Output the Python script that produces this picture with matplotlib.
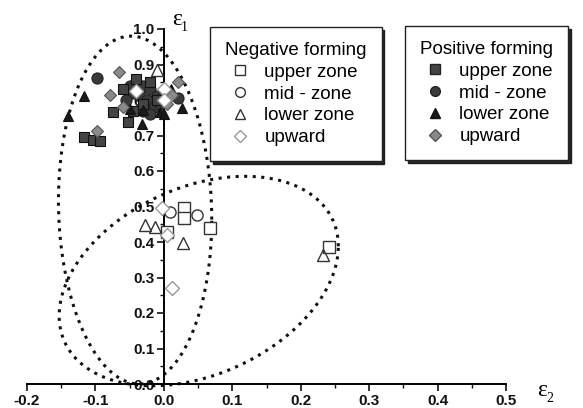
import numpy as np
import matplotlib
matplotlib.use("Agg")
import matplotlib.pyplot as plt
from matplotlib.lines import Line2D

plt.rcParams['font.family'] = ['Liberation Sans', 'DejaVu Sans']

# ---- data (epsilon2, epsilon1) ----
neg_upper_x = [0.029, 0.029, 0.068, 0.241, 0.004]
neg_upper_y = [0.495, 0.468, 0.440, 0.386, 0.428]
neg_mid_x = [0.048, 0.009]
neg_mid_y = [0.476, 0.485]
neg_lower_x = [0.028, 0.232, -0.013, -0.010, -0.028]
neg_lower_y = [0.397, 0.363, 0.442, 0.885, 0.447]
neg_up_x = [0.012, -0.002, -0.040, 0.000, 0.000, 0.005]
neg_up_y = [0.270, 0.495, 0.825, 0.830, 0.800, 0.420]

pos_upper_x = [-0.075, -0.053, -0.116, -0.104, -0.094, -0.040, -0.020, -0.010, -0.030, -0.060, -0.045]
pos_upper_y = [0.766, 0.738, 0.696, 0.687, 0.684, 0.860, 0.850, 0.800, 0.790, 0.830, 0.770]
pos_mid_x = [-0.097, 0.021, -0.040, -0.030, -0.020, -0.045, -0.035, -0.025, -0.010, -0.050,
             -0.015, -0.005, 0.000, -0.055, -0.030, -0.020]
pos_mid_y = [0.862, 0.806, 0.850, 0.840, 0.830, 0.820, 0.810, 0.800, 0.810, 0.840,
             0.780, 0.790, 0.820, 0.800, 0.770, 0.760]
pos_lower_x = [-0.116, -0.140, 0.026, -0.031, -0.006, -0.032, -0.050, 0.010, 0.000]
pos_lower_y = [0.811, 0.755, 0.777, 0.772, 0.766, 0.732, 0.775, 0.830, 0.760]
pos_up_x = [-0.066, -0.079, -0.098, 0.020, 0.005, -0.060, 0.012]
pos_up_y = [0.878, 0.814, 0.714, 0.850, 0.790, 0.780, 0.815]

# ellipse outlines (center, x half-extent, covariance term, y half-extent)
ell_tall = dict(cx=-0.042, cy=0.490, ax=0.112, sxy=-0.003, ay=0.490)
ell_wide = dict(cx=0.051, cy=0.290, ax=0.204, sxy=0.020, ay=0.295)

xticks = [-0.2, -0.1, 0.0, 0.1, 0.2, 0.3, 0.4, 0.5]
yticks = [0.0, 0.1, 0.2, 0.3, 0.4, 0.5, 0.6, 0.7, 0.8, 0.9, 1.0]

fig = plt.figure(figsize=(5.83, 4.08), dpi=100)
ax = fig.add_axes([27/583, 24/408, 479/583, 355/408])
ax.set_xlim(-0.2, 0.5)
ax.set_ylim(0.0, 1.0)

def ellipse_pts(e):
    t = np.linspace(0, 2*np.pi, 400)
    b = np.sqrt(e['ay']**2 - (e['sxy']/e['ax'])**2)
    x = e['cx'] + e['ax']*np.cos(t)
    y = e['cy'] + (e['sxy']/e['ax'])*np.cos(t) + b*np.sin(t)
    return x, y

for e in (ell_tall, ell_wide):
    x, y = ellipse_pts(e)
    ax.plot(x, y, color='#111111', lw=2.2, linestyle=(0, (1, 1.8)),
            dash_capstyle='butt', clip_on=False, zorder=2)

# positive (filled)
ax.plot(pos_mid_x, pos_mid_y, 'o', ms=8, mfc='#3a3a3a', mec='#222222', mew=0.8, ls='none', zorder=3)
ax.plot(pos_upper_x, pos_upper_y, 's', ms=7, mfc='#444444', mec='#111111', mew=0.8, ls='none', zorder=3)
ax.plot(pos_lower_x, pos_lower_y, '^', ms=7, mfc='#1a1a1a', mec='#111111', mew=0.8, ls='none', zorder=3)
ax.plot(pos_up_x, pos_up_y, 'D', ms=6, mfc='#8a8a8a', mec='#555555', mew=0.8, ls='none', zorder=3)

# negative (open)
ax.plot(neg_upper_x, neg_upper_y, 's', ms=8, mfc='white', mec='#333333', mew=1.0, ls='none', zorder=4)
ax.plot(neg_mid_x, neg_mid_y, 'o', ms=8, mfc='white', mec='#333333', mew=1.0, ls='none', zorder=4)
ax.plot(neg_lower_x, neg_lower_y, '^', ms=9, mfc='none', mec='#333333', mew=1.0, ls='none', zorder=4)
ax.plot(neg_up_x, neg_up_y, 'D', ms=7, mfc='white', mec='#999999', mew=1.0, ls='none', zorder=4)

# axes styling
for s in ('top', 'right'):
    ax.spines[s].set_visible(False)
ax.spines['left'].set_position(('data', 0.0))
ax.spines['left'].set_linewidth(1.4)
ax.spines['bottom'].set_linewidth(1.4)
ax.set_xticks(xticks)
ax.set_yticks(yticks)
ax.set_xticklabels([f'{v:.1f}' for v in xticks])
ax.set_yticklabels([f'{v:.1f}' for v in yticks])
ax.set_xticks(np.arange(-0.15, 0.5, 0.1), minor=True)
ax.set_yticks(np.arange(0.05, 1.0, 0.1), minor=True)
ax.tick_params(which='major', direction='out', length=5, width=1.2, labelsize=11, pad=2, colors='#111111')
ax.tick_params(which='minor', direction='out', length=3, width=1.0, colors='#111111')
for lab in ax.get_xticklabels() + ax.get_yticklabels():
    lab.set_fontweight('bold')

# axis labels (upright epsilon with subscript)
ax.text(0.019, 1.027, 'ε', family='Liberation Serif', fontsize=17, ha='center', va='center', clip_on=False)
ax.text(0.030, 1.005, '1', family='Liberation Serif', fontsize=10, ha='center', va='center', clip_on=False)
ax.text(0.553, -0.018, 'ε', family='Liberation Serif', fontsize=17, ha='center', va='center', clip_on=False)
ax.text(0.564, -0.040, '2', family='Liberation Serif', fontsize=10, ha='center', va='center', clip_on=False)

labels = ['upper zone', 'mid - zone', 'lower zone', 'upward']
neg_h = [Line2D([], [], marker='s', ms=7, mfc='white', mec='#333333', ls='none'),
         Line2D([], [], marker='o', ms=7, mfc='white', mec='#333333', ls='none'),
         Line2D([], [], marker='^', ms=7, mfc='white', mec='#333333', ls='none'),
         Line2D([], [], marker='D', ms=6, mfc='white', mec='#999999', ls='none')]
pos_h = [Line2D([], [], marker='s', ms=7, mfc='#444444', mec='#222222', ls='none'),
         Line2D([], [], marker='o', ms=7, mfc='#3a3a3a', mec='#222222', ls='none'),
         Line2D([], [], marker='^', ms=7, mfc='#1a1a1a', mec='#111111', ls='none'),
         Line2D([], [], marker='D', ms=6, mfc='#8a8a8a', mec='#555555', ls='none')]

common = dict(loc='upper left', bbox_transform=fig.transFigure, frameon=True, fancybox=False,
              shadow={'color': '#111111', 'alpha': 0.9}, edgecolor='#222222', fontsize=13.5,
              title_fontsize=13.5, alignment='left', handlelength=1.6, handletextpad=0.5,
              borderpad=0.8, labelspacing=0.25, borderaxespad=0)
leg1 = ax.legend(neg_h, labels, title='Negative forming', bbox_to_anchor=(210/583, 1-27/408), **common)
leg1.get_frame().set_linewidth(1.0)
ax.add_artist(leg1)
leg2 = ax.legend(pos_h, labels, title='Positive forming', bbox_to_anchor=(405/583, 1-26/408), **common)
leg2.get_frame().set_linewidth(1.0)

fig.savefig('out.png', dpi=100)
